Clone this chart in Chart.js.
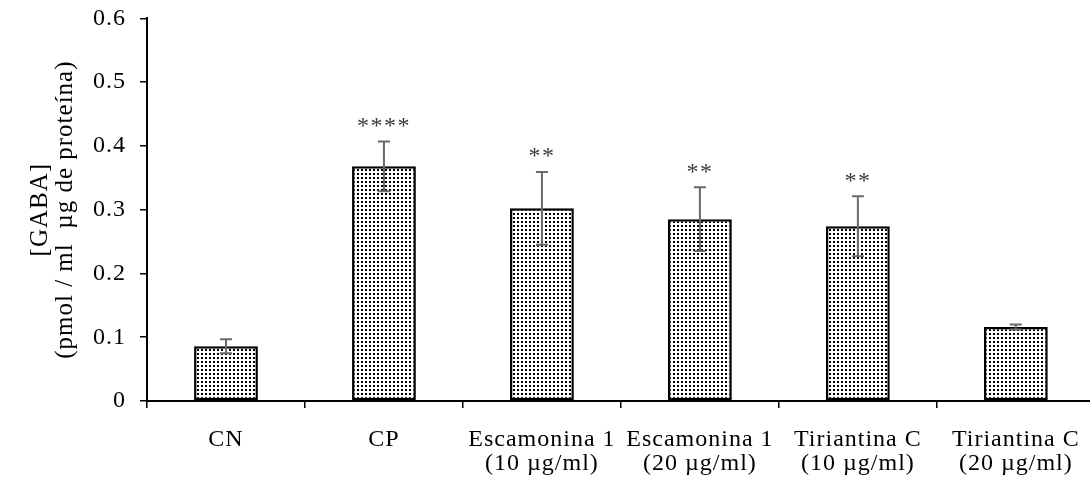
<!DOCTYPE html>
<html>
<head>
<meta charset="utf-8">
<script src="https://cdn.jsdelivr.net/npm/chart.js@4.4.1/dist/chart.umd.min.js"></script>
<style>
  html, body { margin: 0; padding: 0; overflow: hidden; background: #ffffff; }
  canvas { display: block; }
</style>
</head>
<body>
<canvas id="gabaChart" width="1100" height="477"></canvas>
<script>
// Treatment groups (x axis)
const categories = [
  ['CN'],
  ['CP'],
  ['Escamonina 1', '(10 µg/ml)'],
  ['Escamonina 1', '(20 µg/ml)'],
  ['Tiriantina C', '(10 µg/ml)'],
  ['Tiriantina C', '(20 µg/ml)']
];
// Mean GABA concentration per group
const gabaMeans = [0.086, 0.368, 0.302, 0.285, 0.274, 0.116];
// Error (± SD) per group
const gabaErrors = [0.011, 0.039, 0.057, 0.050, 0.047, 0.004];
// Significance marks above each bar
const significance = ['', '****', '**', '**', '**', ''];
// Y axis tick labels
const yTickLabels = ['0', '0.1', '0.2', '0.3', '0.4', '0.5', '0.6'];

const SERIF = '"Liberation Serif", "Times New Roman", serif';

// Dotted fill used for the bars
function dotPattern() {
  const p = document.createElement('canvas');
  p.width = 4; p.height = 4;
  const g = p.getContext('2d');
  g.fillStyle = '#ffffff';
  g.fillRect(0, 0, 4, 4);
  g.fillStyle = '#000000';
  g.fillRect(1, 1, 2, 2);
  return g.createPattern(p, 'repeat');
}

// Slightly open letter spacing for the axis text
const spacingPlugin = {
  id: 'letterSpacing',
  beforeLayout(chart) { chart.ctx.letterSpacing = '1px'; },
  beforeDraw(chart) { chart.ctx.letterSpacing = '1px'; }
};

// Error bars and significance asterisks
const errorBarPlugin = {
  id: 'errorBars',
  afterDatasetsDraw(chart) {
    const { ctx, scales: { x, y } } = chart;
    ctx.save();
    ctx.strokeStyle = '#6a6a6a';
    ctx.lineWidth = 2;
    gabaMeans.forEach((m, i) => {
      const cx = x.getPixelForValue(i);
      const top = y.getPixelForValue(m + gabaErrors[i]);
      const bot = y.getPixelForValue(m - gabaErrors[i]);
      ctx.beginPath();
      ctx.moveTo(cx, top); ctx.lineTo(cx, bot);
      ctx.moveTo(cx - 6, top); ctx.lineTo(cx + 6, top);
      ctx.moveTo(cx - 6, bot); ctx.lineTo(cx + 6, bot);
      ctx.stroke();
      if (significance[i]) {
        ctx.fillStyle = '#3a3a3a';
        ctx.font = '24px ' + SERIF;
        ctx.letterSpacing = '1.5px';
        ctx.textAlign = 'center';
        ctx.textBaseline = 'middle';
        ctx.fillText(significance[i], cx, top - 15);
      }
    });
    ctx.restore();
  }
};

new Chart(document.getElementById('gabaChart'), {
  type: 'bar',
  data: {
    labels: categories,
    datasets: [{
      data: gabaMeans,
      backgroundColor: dotPattern(),
      borderColor: '#000000',
      borderWidth: 2.5,
      borderSkipped: false,
      barPercentage: 0.404,
      categoryPercentage: 1.0
    }]
  },
  options: {
    responsive: false,
    animation: false,
    devicePixelRatio: 1,
    layout: { padding: { top: 18.3, right: 3, left: 0, bottom: 0 } },
    plugins: {
      legend: { display: false },
      tooltip: { enabled: false }
    },
    scales: {
      x: {
        offset: true,
        grid: {
          offset: true,
          drawOnChartArea: false,
          drawTicks: true,
          tickLength: 7,
          color: '#000000',
          lineWidth: 1.5
        },
        border: { display: true, color: '#000000', width: 2 },
        ticks: {
          color: '#000000',
          font: { family: SERIF, size: 24, lineHeight: 1.0 },
          padding: 20,
          maxRotation: 0,
          autoSkip: false
        },
        afterFit(scale) { scale.height = 76; }
      },
      y: {
        min: 0,
        max: 0.6,
        ticks: {
          stepSize: 0.1,
          color: '#000000',
          font: { family: SERIF, size: 24, lineHeight: 0.3 },
          padding: 14,
          callback: (v, i) => yTickLabels[i]
        },
        grid: {
          drawOnChartArea: false,
          drawTicks: true,
          tickLength: 7,
          color: '#000000',
          lineWidth: 1.5
        },
        border: { display: true, color: '#000000', width: 2 },
        title: {
          display: true,
          text: ['[GABA]', '(pmol / ml  µg de proteína)'],
          color: '#000000',
          font: { family: SERIF, size: 25, lineHeight: 1.0 },
          padding: { top: 27.5, bottom: 0 }
        },
        afterFit(scale) { scale.width = 147; }
      }
    }
  },
  plugins: [spacingPlugin, errorBarPlugin]
});
</script>
</body>
</html>
